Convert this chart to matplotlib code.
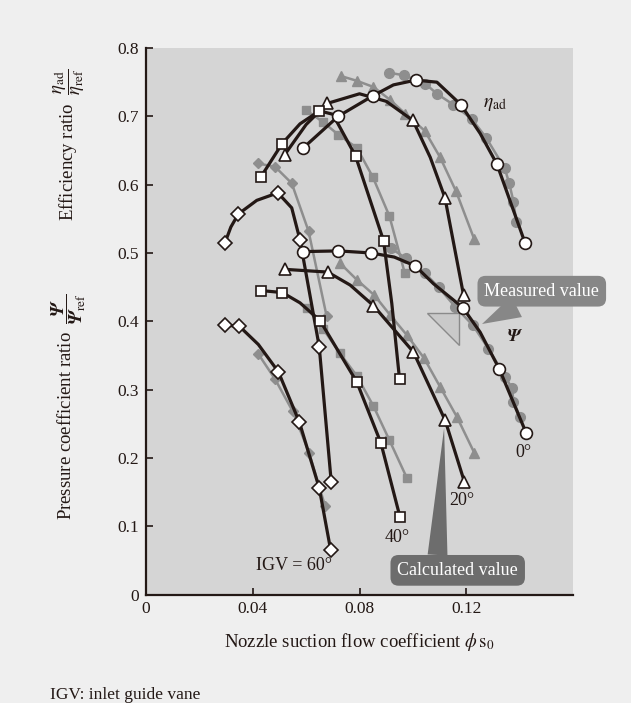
import matplotlib
matplotlib.use("Agg")
import matplotlib.pyplot as plt
from matplotlib.patches import Polygon

plt.rcParams['font.family'] = 'serif'
plt.rcParams['font.serif'] = ['Liberation Serif', 'DejaVu Serif']
plt.rcParams['mathtext.fontset'] = 'stix'

# ---- efficiency ratio, calculated (white markers, black line)
eff_calc_0_x = [0.059, 0.072, 0.085, 0.101, 0.118, 0.1315, 0.142]
eff_calc_0_y = [0.654, 0.700, 0.730, 0.753, 0.717, 0.630, 0.515]
eff_calc_20_x = [0.052, 0.068, 0.100, 0.112, 0.119]
eff_calc_20_y = [0.644, 0.719, 0.694, 0.581, 0.438]
eff_calc_40_x = [0.043, 0.051, 0.065, 0.0785, 0.089, 0.095]
eff_calc_40_y = [0.611, 0.660, 0.708, 0.642, 0.518, 0.315]
eff_calc_60_x = [0.0296, 0.0346, 0.0494, 0.0577, 0.0649, 0.0694]
eff_calc_60_y = [0.515, 0.557, 0.588, 0.519, 0.363, 0.165]

# points read along the black curves between markers (no marker drawn)
eff_calc_0_extra_x = [0.0927, 0.109, 0.1252]
eff_calc_0_extra_y = [0.746, 0.750, 0.675]
eff_calc_20_extra_x = [0.060, 0.080, 0.090, 0.1065]
eff_calc_20_extra_y = [0.688, 0.733, 0.722, 0.640]
eff_calc_40_extra_x = [0.0577, 0.070, 0.0921]
eff_calc_40_extra_y = [0.689, 0.703, 0.426]
eff_calc_60_extra_x = [0.0318, 0.0415, 0.0546]
eff_calc_60_extra_y = [0.538, 0.577, 0.566]

# ---- efficiency ratio, measured (grey)
eff_meas_0_x = [0.0909, 0.0967, 0.1046, 0.109, 0.1152, 0.1221, 0.1274, 0.1344, 0.1361, 0.1377, 0.1387]
eff_meas_0_y = [0.764, 0.760, 0.748, 0.733, 0.717, 0.696, 0.669, 0.624, 0.602, 0.575, 0.546]
eff_meas_20_x = [0.073, 0.079, 0.0852, 0.0915, 0.0971, 0.1044, 0.1102, 0.1162, 0.123]
eff_meas_20_y = [0.759, 0.752, 0.743, 0.724, 0.704, 0.679, 0.640, 0.590, 0.520]
eff_meas_40_x = [0.060, 0.0662, 0.0721, 0.079, 0.085, 0.0912, 0.097]
eff_meas_40_y = [0.709, 0.692, 0.673, 0.654, 0.611, 0.554, 0.470]
eff_meas_60_x = [0.0421, 0.0484, 0.0546, 0.0609, 0.0677]
eff_meas_60_y = [0.631, 0.626, 0.602, 0.532, 0.407]

# ---- pressure coefficient ratio, calculated
psi_calc_0_x = [0.059, 0.0721, 0.0843, 0.1009, 0.1187, 0.1324, 0.1424]
psi_calc_0_y = [0.502, 0.503, 0.500, 0.481, 0.420, 0.330, 0.237]
psi_calc_20_x = [0.0521, 0.0681, 0.0852, 0.1002, 0.1121, 0.1193]
psi_calc_20_y = [0.476, 0.472, 0.423, 0.355, 0.255, 0.165]
psi_calc_40_x = [0.043, 0.0511, 0.0652, 0.079, 0.088, 0.0952]
psi_calc_40_y = [0.445, 0.442, 0.401, 0.311, 0.222, 0.113]
psi_calc_60_x = [0.0296, 0.0349, 0.0496, 0.0575, 0.0649, 0.0692]
psi_calc_60_y = [0.394, 0.393, 0.326, 0.252, 0.156, 0.065]

psi_calc_0_extra_x = [0.093, 0.1077, 0.1252]
psi_calc_0_extra_y = [0.494, 0.455, 0.384]
psi_calc_20_extra_x = [0.0765]
psi_calc_20_extra_y = [0.453]
psi_calc_40_extra_x = [0.0577]
psi_calc_40_extra_y = [0.427]
psi_calc_60_extra_x = [0.0421]
psi_calc_60_extra_y = [0.366]

# ---- pressure coefficient ratio, measured
psi_meas_0_x = [0.0917, 0.0975, 0.1046, 0.1096, 0.1159, 0.1225, 0.1283, 0.1346, 0.1371, 0.1377, 0.1402]
psi_meas_0_y = [0.507, 0.492, 0.470, 0.450, 0.421, 0.394, 0.360, 0.319, 0.302, 0.282, 0.260]
psi_meas_20_x = [0.0727, 0.0792, 0.0856, 0.0915, 0.0977, 0.1042, 0.1102, 0.1165, 0.123]
psi_meas_20_y = [0.485, 0.460, 0.438, 0.409, 0.380, 0.346, 0.304, 0.260, 0.2075]
psi_meas_40_x = [0.0605, 0.0665, 0.0727, 0.079, 0.0852, 0.0912, 0.0977]
psi_meas_40_y = [0.419, 0.388, 0.353, 0.320, 0.276, 0.226, 0.171]
psi_meas_60_x = [0.0421, 0.0484, 0.055, 0.0611, 0.0671]
psi_meas_60_y = [0.352, 0.315, 0.268, 0.2075, 0.1295]

x_ticks = [0, 0.04, 0.08, 0.12]
x_tick_labels = ['0', '0.04', '0.08', '0.12']
y_ticks = [0, 0.1, 0.2, 0.3, 0.4, 0.5, 0.6, 0.7, 0.8]
y_tick_labels = ['0', '0.1', '0.2', '0.3', '0.4', '0.5', '0.6', '0.7', '0.8']

BLACK = '#231815'
GREY = '#8e8e8e'
markers = {0: 'o', 20: '^', 40: 's', 60: 'D'}
calc_ms = {0: 8.5, 20: 9, 40: 7.5, 60: 7}
meas_ms = {0: 7, 20: 6.5, 40: 6, 60: 5}

calc_curves = [
    (0, eff_calc_0_x, eff_calc_0_y, eff_calc_0_extra_x, eff_calc_0_extra_y),
    (20, eff_calc_20_x, eff_calc_20_y, eff_calc_20_extra_x, eff_calc_20_extra_y),
    (40, eff_calc_40_x, eff_calc_40_y, eff_calc_40_extra_x, eff_calc_40_extra_y),
    (60, eff_calc_60_x, eff_calc_60_y, eff_calc_60_extra_x, eff_calc_60_extra_y),
    (0, psi_calc_0_x, psi_calc_0_y, psi_calc_0_extra_x, psi_calc_0_extra_y),
    (20, psi_calc_20_x, psi_calc_20_y, psi_calc_20_extra_x, psi_calc_20_extra_y),
    (40, psi_calc_40_x, psi_calc_40_y, psi_calc_40_extra_x, psi_calc_40_extra_y),
    (60, psi_calc_60_x, psi_calc_60_y, psi_calc_60_extra_x, psi_calc_60_extra_y),
]
meas_curves = [
    (0, eff_meas_0_x, eff_meas_0_y), (20, eff_meas_20_x, eff_meas_20_y),
    (40, eff_meas_40_x, eff_meas_40_y), (60, eff_meas_60_x, eff_meas_60_y),
    (0, psi_meas_0_x, psi_meas_0_y), (20, psi_meas_20_x, psi_meas_20_y),
    (40, psi_meas_40_x, psi_meas_40_y), (60, psi_meas_60_x, psi_meas_60_y),
]

fig = plt.figure(figsize=(6.31, 7.03), dpi=100)
fig.patch.set_facecolor('#efefef')
ax = fig.add_axes([0.2314, 0.1543, 0.6767, 0.7774])
ax.set_facecolor('#d5d5d5')

for angle, xs, ys in meas_curves:
    ax.plot(xs, ys, color=GREY, lw=1.8, marker=markers[angle], ms=meas_ms[angle],
            mfc=GREY, mec=GREY, zorder=2)

for angle, xs, ys, ex, ey in calc_curves:
    pts = sorted(zip(list(xs) + list(ex), list(ys) + list(ey)))
    ax.plot([p[0] for p in pts], [p[1] for p in pts], color=BLACK, lw=2.3, zorder=3,
            solid_capstyle='round', solid_joinstyle='round')
for angle, xs, ys, ex, ey in calc_curves:
    ax.plot(xs, ys, ls='none', marker=markers[angle], ms=calc_ms[angle],
            mfc='white', mec=BLACK, mew=1.2, zorder=4)

ax.set_xlim(0, 0.16)
ax.set_ylim(0, 0.8)
ax.set_xticks(x_ticks)
ax.set_xticklabels(x_tick_labels)
ax.set_yticks(y_ticks)
ax.set_yticklabels(y_tick_labels)
ax.tick_params(direction='in', length=5, width=1.2, labelsize=12.5, pad=5,
               color=BLACK, labelcolor=BLACK)
for side in ['top', 'right']:
    ax.spines[side].set_visible(False)
for side in ['left', 'bottom']:
    ax.spines[side].set_linewidth(1.6)
    ax.spines[side].set_color(BLACK)

ax.set_xlabel(r'Nozzle suction flow coefficient $\phi\,\mathrm{s}_0$',
              fontsize=13.5, labelpad=10, color=BLACK)

ytrans = ax.get_yaxis_transform()
ax.text(-0.18, 0.658, r'Efficiency ratio  $\dfrac{\eta_{\mathrm{ad}}}{\eta_{\mathrm{ref}}}$',
        transform=ytrans, rotation=90, ha='center', va='center', fontsize=13.5, color=BLACK)
ax.text(-0.18, 0.275, r'Pressure coefficient ratio  $\dfrac{\mathbfit{\Psi}}{\mathbfit{\Psi}_{\mathrm{ref}}}$',
        transform=ytrans, rotation=90, ha='center', va='center', fontsize=13.5, color=BLACK)

# curve labels
ax.text(0.1264, 0.718, r'$\eta_{\mathrm{ad}}$', fontsize=14, ha='left', va='center', color=BLACK)
ax.text(0.1384, 0.377, r'$\mathbfit{\Psi}$', fontsize=13, ha='center', va='center', color=BLACK)
ax.text(0.1414, 0.2085, '0°', fontsize=13, ha='center', va='center', color=BLACK)
ax.text(0.1185, 0.138, '20°', fontsize=13, ha='center', va='center', color=BLACK)
ax.text(0.0941, 0.083, '40°', fontsize=13, ha='center', va='center', color=BLACK)
ax.text(0.0553, 0.043, 'IGV = 60°', fontsize=13, ha='center', va='center', color=BLACK)

# light wedge near the measured callout
ax.add_patch(Polygon([[0.1053, 0.4115], [0.1171, 0.4115], [0.1171, 0.365]],
                     closed=True, fc='#c9c9c9', ec='#8a8a8a', lw=1, zorder=1.5))

# callouts
ax.annotate('Measured value', xy=(0.1259, 0.396), xytext=(0.1483, 0.444),
            fontsize=13, color='white', ha='center', va='center', annotation_clip=False,
            bbox=dict(boxstyle='round,pad=0.38,rounding_size=0.45', fc='#878787', ec='none'),
            arrowprops=dict(arrowstyle='wedge,tail_width=1.3', fc='#878787', ec='none',
                            shrinkA=0, shrinkB=0, relpos=(0.4, 0.0)),
            zorder=6)
ax.annotate('Calculated value', xy=(0.1117, 0.2437), xytext=(0.1168, 0.0354),
            fontsize=13, color='white', ha='center', va='center', annotation_clip=False,
            bbox=dict(boxstyle='round,pad=0.38,rounding_size=0.45', fc='#6d6d6d', ec='none'),
            arrowprops=dict(arrowstyle='wedge,tail_width=1.1', fc='#6d6d6d', ec='none',
                            shrinkA=0, shrinkB=0, relpos=(0.33, 1.0)),
            zorder=6)

fig.text(50 / 631, 1 - 695 / 703, 'IGV: inlet guide vane', fontsize=12.5,
         ha='left', va='center', color=BLACK)

fig.savefig('out.png', dpi=100, facecolor=fig.get_facecolor())
